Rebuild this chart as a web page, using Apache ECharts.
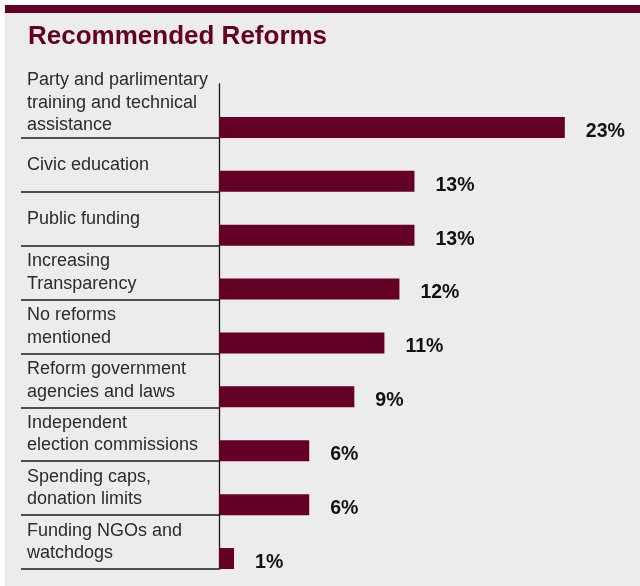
<!DOCTYPE html>
<html>
<head>
<meta charset="utf-8">
<title>Recommended Reforms</title>
<script src="https://cdn.jsdelivr.net/npm/echarts@6/dist/echarts.min.js"></script>
<style>
  html, body { margin: 0; padding: 0; background: #ffffff; }
  #chart { width: 640px; height: 586px; }
</style>
</head>
<body>
<div id="chart"></div>
<script>
// Reform categories, top to bottom
const categories = [
  'Party and parlimentary\ntraining and technical\nassistance',
  'Civic education',
  'Public funding',
  'Increasing\nTransparency',
  'No reforms\nmentioned',
  'Reform government\nagencies and laws',
  'Independent\nelection commissions',
  'Spending caps,\ndonation limits',
  'Funding NGOs and\nwatchdogs'
];
// Share of respondents (%)
const shares = [23, 13, 13, 12, 11, 9, 6, 6, 1];

const MAROON = '#640025';
const INK = '#2b2b2b';
const FONT = '"Liberation Sans", Arial, Helvetica, sans-serif';

const chart = echarts.init(document.getElementById('chart'), null, { renderer: 'canvas' });

chart.setOption({
  backgroundColor: '#ececec',
  animation: false,
  graphic: [
    { type: 'rect', left: 0, top: 0, shape: { width: 640, height: 5 }, style: { fill: '#ffffff' }, silent: true },
    { type: 'rect', left: 0, top: 0, shape: { width: 5, height: 586 }, style: { fill: '#ffffff' }, silent: true },
    { type: 'rect', left: 5, top: 5, shape: { width: 635, height: 8 }, style: { fill: MAROON }, silent: true }
  ],
  title: {
    text: 'Recommended Reforms',
    left: 28,
    top: 24,
    padding: 0,
    textStyle: { color: MAROON, fontFamily: FONT, fontWeight: 'bold', fontSize: 26 }
  },
  grid: { left: 219, top: 84, height: 485, right: 0, containLabel: false, outerBoundsMode: 'none' },
  xAxis: {
    type: 'value',
    min: 0,
    max: 28,
    show: false
  },
  yAxis: {
    type: 'category',
    inverse: true,
    data: categories,
    axisLine: { show: true, lineStyle: { color: '#1a1a1a', width: 1.3 } },
    axisTick: {
      show: true,
      length: 198,
      interval: (index) => index !== 0,
      lineStyle: { color: '#1a1a1a', width: 1.5 }
    },
    axisLabel: {
      align: 'left',
      margin: 192,
      color: INK,
      fontFamily: FONT,
      fontSize: 18,
      lineHeight: 22.5,
      hideOverlap: false,
      showMinLabel: true,
      // the three-line first label sits a little higher in its row
      formatter: (value, index) => (index === 0 ? value + '\n{gap| }' : value),
      rich: {
        gap: { fontSize: 2, lineHeight: 16 }
      }
    },
    splitLine: { show: false }
  },
  series: [
    {
      // empty companion series that pushes each bar to the bottom of its row
      type: 'bar',
      data: shares.map(() => '-'),
      barWidth: 21,
      barGap: '57%',
      silent: true
    },
    {
      type: 'bar',
      data: shares,
      barWidth: 21,
      barGap: '57%',
      itemStyle: { color: MAROON },
      label: {
        show: true,
        position: 'right',
        distance: 21,
        offset: [0, 4],
        formatter: '{c}%',
        color: '#111111',
        fontFamily: FONT,
        fontWeight: 'bold',
        fontSize: 19.5
      }
    }
  ]
});
</script>
</body>
</html>
